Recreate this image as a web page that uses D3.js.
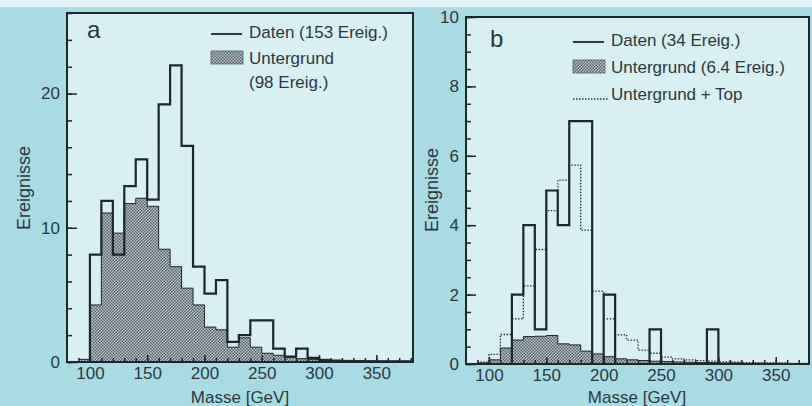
<!DOCTYPE html>
<html>
<head>
<meta charset="utf-8">
<script src="https://cdn.jsdelivr.net/npm/d3@7"></script>
<style>
body { margin: 0; background: #a8dce5; }
svg { display: block; font-family: "Liberation Sans", Arial, sans-serif; }
.tick text { font-size: 17px; fill: #2a383d; }
.tick line { stroke: #1c262b; stroke-width: 1.5; }
.lbl { fill: #2a383d; }
</style>
</head>
<body>
<svg id="chart" width="812" height="406"></svg>
<script>
// 10 GeV bins, first bin starts at 90 GeV
var binStart = 90, binWidth = 10;

// panel a
var dataA = [0, 8, 12, 8, 13.1, 15.1, 12.1, 19.2, 22.1, 16.1, 7.1, 5.1, 6.1, 1.5, 2.0, 3.1, 3.1, 1.0, 0.4, 1.0, 0.3, 0.1, 0.05, 0.05, 0.05, 0.05, 0.05, 0.05, 0.05];
var bgA   = [0.2, 4.25, 11.1, 9.6, 11.8, 12.2, 11.6, 8.4, 7.1, 5.5, 4.25, 2.6, 2.4, 1.1, 1.8, 1.1, 0.65, 0.5, 0.35, 0.25, 0.2, 0.2, 0.15, 0.12, 0.1, 0.08, 0.06, 0.05, 0.04];

// panel b
var dataB  = [0, 0, 0, 2, 4, 1, 5, 4, 7, 7, 0, 2, 0, 0, 0, 1, 0, 0, 0, 0, 1, 0, 0, 0, 0, 0, 0, 0, 0];
var bgB    = [0.03, 0.12, 0.46, 0.69, 0.79, 0.8, 0.82, 0.58, 0.55, 0.37, 0.29, 0.21, 0.15, 0.12, 0.1, 0.08, 0.07, 0.06, 0.05, 0.04, 0.04, 0.03, 0.03, 0.02, 0.02, 0.02, 0.02, 0.01, 0.01];
var bgTopB = [0.05, 0.28, 0.85, 1.3, 2.25, 3.3, 4.42, 5.3, 5.73, 3.86, 2.1, 1.3, 0.84, 0.69, 0.4, 0.31, 0.2, 0.15, 0.12, 0.1, 0.08, 0.06, 0.05, 0.04, 0.04, 0.03, 0.03, 0.02, 0.02];

var xTicks = [100, 150, 200, 250, 300, 350];

var ink = "#1c262b";
var svg = d3.select("#chart");
var defs = svg.append("defs");

var pat = defs.append("pattern").attr("id", "stip")
    .attr("width", 3).attr("height", 3).attr("patternUnits", "userSpaceOnUse");
pat.append("rect").attr("width", 3).attr("height", 3).attr("fill", "#bcc6c8");
pat.append("rect").attr("width", 1.5).attr("height", 1.5).attr("fill", "#55626a");
pat.append("rect").attr("x", 1.5).attr("y", 1.5).attr("width", 1.5).attr("height", 1.5).attr("fill", "#55626a");

// pale strip along the top of the scan
svg.append("rect").attr("width", 812).attr("height", 7).attr("fill", "#e4f4f6");

function steps(vals) {
  var pts = vals.map(function(v, i) { return [binStart + i * binWidth, v]; });
  pts.push([binStart + vals.length * binWidth, vals[vals.length - 1]]);
  return pts;
}

function panel(p) {
  var x = d3.scaleLinear().domain(p.xd).range([p.l, p.r]);
  var y = d3.scaleLinear().domain(p.yd).range([p.b, p.t]);

  svg.append("rect").attr("x", p.l).attr("y", p.t)
      .attr("width", p.r - p.l).attr("height", p.b - p.t).attr("fill", "#d9f0f3");

  defs.append("clipPath").attr("id", "clip" + p.id)
    .append("rect").attr("x", p.l).attr("y", p.t)
      .attr("width", p.r - p.l).attr("height", p.b - p.t);

  var g = svg.append("g").attr("clip-path", "url(#clip" + p.id + ")");

  var area = d3.area().curve(d3.curveStepAfter)
      .x(function(d) { return x(d[0]); })
      .y0(y(0)).y1(function(d) { return y(d[1]); });
  var line = d3.line().curve(d3.curveStepAfter)
      .x(function(d) { return x(d[0]); })
      .y(function(d) { return y(d[1]); });

  g.append("path").attr("d", area(steps(p.bg))).attr("fill", "url(#stip)");
  g.append("path").attr("d", line(steps(p.bg)))
      .attr("fill", "none").attr("stroke", ink).attr("stroke-width", 1);

  if (p.top) {
    g.append("path").attr("d", line(steps(p.top)))
        .attr("fill", "none").attr("stroke", ink).attr("stroke-width", 1.3)
        .attr("stroke-dasharray", "1.4,1.6");
  }

  var dp = [[binStart, 0]].concat(steps(p.data));
  dp.push([binStart + p.data.length * binWidth, 0]);
  g.append("path").attr("d", line(dp))
      .attr("fill", "none").attr("stroke", ink).attr("stroke-width", 2.2);

  // x axis: minor + major ticks pointing inward
  svg.append("g").attr("transform", "translate(0," + p.b + ")")
      .call(d3.axisBottom(x).tickValues(d3.range(90, p.xd[1], 10)).tickSize(-4).tickFormat(""))
      .call(function(s) { s.select(".domain").remove(); });
  svg.append("g").attr("transform", "translate(0," + p.b + ")")
      .call(d3.axisBottom(x).tickValues(xTicks).tickSize(-7).tickPadding(5).tickFormat(d3.format("d")))
      .call(function(s) { s.select(".domain").remove(); });

  // y axis
  svg.append("g").attr("transform", "translate(" + p.l + ",0)")
      .call(d3.axisLeft(y).tickValues(d3.range(0, p.yd[1] + 1e-9, p.yMinor)).tickSize(-5).tickFormat(""))
      .call(function(s) { s.select(".domain").remove(); });
  svg.append("g").attr("transform", "translate(" + p.l + ",0)")
      .call(d3.axisLeft(y).tickValues(p.yMajor).tickSize(-10).tickPadding(7).tickFormat(d3.format("d")))
      .call(function(s) { s.select(".domain").remove(); });

  // frame
  svg.append("rect").attr("x", p.l).attr("y", p.t)
      .attr("width", p.r - p.l).attr("height", p.b - p.t)
      .attr("fill", "none").attr("stroke", ink).attr("stroke-width", 2);

  svg.append("text").attr("class", "lbl")
      .attr("x", p.xlabX).attr("y", 403).attr("text-anchor", "middle")
      .style("font-size", "17px").text("Masse [GeV]");
  svg.append("text").attr("class", "lbl")
      .attr("transform", "translate(" + p.ylabX + "," + p.ylabY + ") rotate(-90)")
      .attr("text-anchor", "middle").attr("dy", "0.35em")
      .style("font-size", "18px").text("Ereignisse");

  svg.append("text").attr("class", "lbl")
      .attr("x", p.tagX).attr("y", p.tagY).style("font-size", "24px").text(p.id);

  // legend
  var lx = p.legX, ty = p.legY;
  svg.append("line").attr("x1", lx).attr("x2", lx + 31)
      .attr("y1", ty[0] - 4).attr("y2", ty[0] - 4)
      .attr("stroke", ink).attr("stroke-width", 1.8);
  svg.append("rect").attr("x", lx).attr("y", ty[1] - 13)
      .attr("width", 32).attr("height", 13)
      .attr("fill", "url(#stip)").attr("stroke", "#55626a").attr("stroke-width", 0.8);
  if (p.top) {
    svg.append("line").attr("x1", lx).attr("x2", lx + 35)
        .attr("y1", ty[2] - 1).attr("y2", ty[2] - 1)
        .attr("stroke", ink).attr("stroke-width", 1.3).attr("stroke-dasharray", "1.4,1.6");
  }
  p.legText.forEach(function(t, i) {
    svg.append("text").attr("class", "lbl")
        .attr("x", lx + 38).attr("y", ty[i]).style("font-size", "17px").text(t);
  });
}

panel({
  id: "a", l: 67, r: 413, t: 13, b: 362, xd: [80, 382], yd: [0, 26],
  yMajor: [0, 10, 20], yMinor: 2,
  data: dataA, bg: bgA, top: null,
  xlabX: 240, ylabX: 24, ylabY: 188, tagX: 87, tagY: 38,
  legX: 211, legY: [38, 64, 88],
  legText: ["Daten (153 Ereig.)", "Untergrund", "(98 Ereig.)"]
});

panel({
  id: "b", l: 466, r: 809, t: 17, b: 364, xd: [80, 379], yd: [0, 10],
  yMajor: [0, 2, 4, 6, 8, 10], yMinor: 0.5,
  data: dataB, bg: bgB, top: bgTopB,
  xlabX: 637, ylabX: 432, ylabY: 190, tagX: 490, tagY: 47,
  legX: 573, legY: [46, 73, 100],
  legText: ["Daten (34 Ereig.)", "Untergrund (6.4 Ereig.)", "Untergrund + Top"]
});
</script>
</body>
</html>
